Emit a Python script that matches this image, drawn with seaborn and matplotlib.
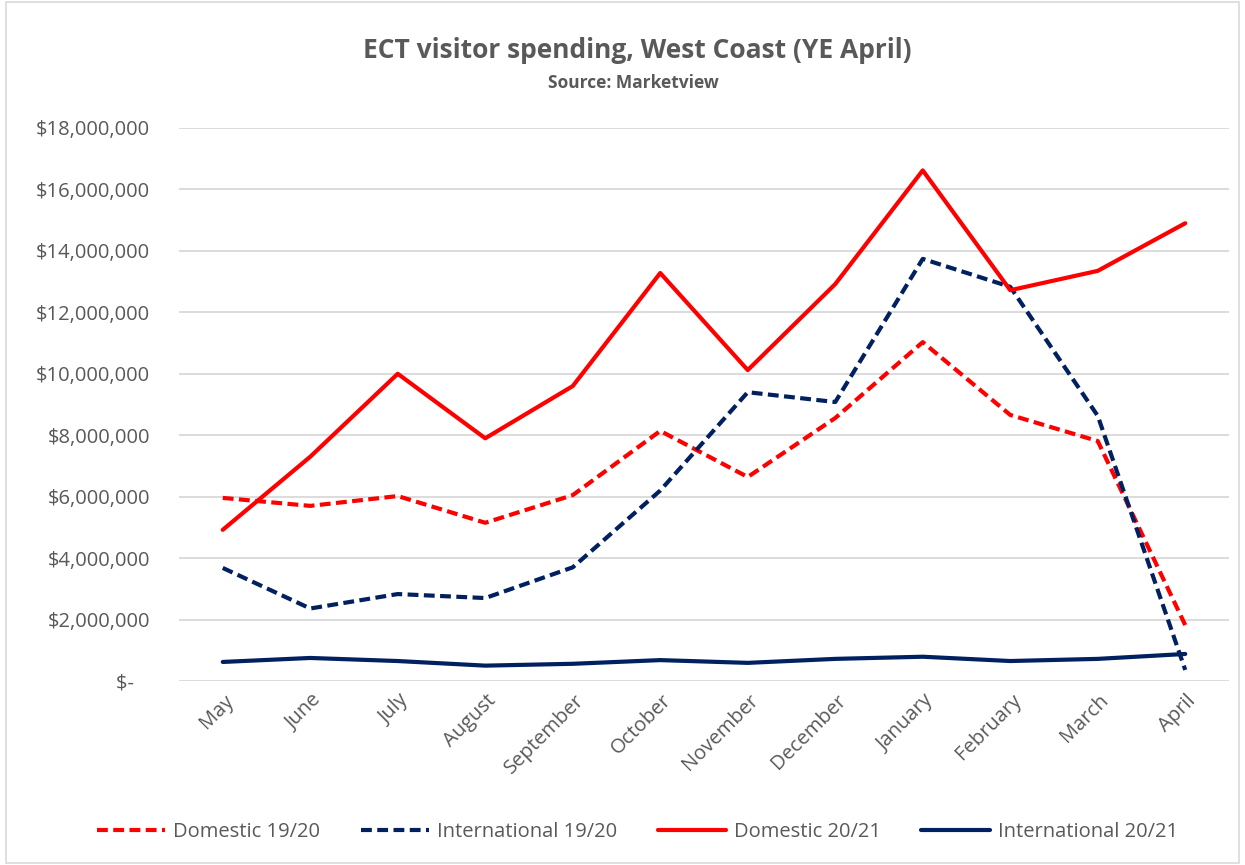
import pandas as pd
import numpy as np
import seaborn as sns
import matplotlib.pyplot as plt
from matplotlib.ticker import FuncFormatter
from matplotlib.transforms import ScaledTranslation

sns.set_style('white')
plt.rcParams['font.family'] = ['Open Sans', 'DejaVu Sans']

# Data
months = ['May', 'June', 'July', 'August', 'September', 'October', 'November',
          'December', 'January', 'February', 'March', 'April']
domestic_1920 = [5.96, 5.70, 6.02, 5.15, 6.05, 8.14, 6.64, 8.56, 11.03, 8.66, 7.81, 1.82]
international_1920 = [3.68, 2.36, 2.83, 2.70, 3.70, 6.20, 9.40, 9.08, 13.74, 12.83, 8.63, 0.36]
domestic_2021 = [4.92, 7.30, 10.00, 7.90, 9.60, 13.28, 10.12, 12.92, 16.62, 12.72, 13.35, 14.90]
international_2021 = [0.62, 0.75, 0.65, 0.50, 0.56, 0.68, 0.59, 0.72, 0.79, 0.65, 0.72, 0.88]

series = {
    'Domestic 19/20': domestic_1920,
    'International 19/20': international_1920,
    'Domestic 20/21': domestic_2021,
    'International 20/21': international_2021,
}
rows = []
for name, vals in series.items():
    for i, v in enumerate(vals):
        rows.append({'pos': i, 'month': months[i], 'series': name, 'value': v * 1e6})
df = pd.DataFrame(rows)

red = '#FF0000'
navy = '#002060'
palette = {'Domestic 19/20': red, 'International 19/20': navy,
           'Domestic 20/21': red, 'International 20/21': navy}
dashes = {'Domestic 19/20': (2.6, 1.3), 'International 19/20': (2.6, 1.3),
          'Domestic 20/21': '', 'International 20/21': ''}

fig = plt.figure(figsize=(12.45, 8.65), dpi=100)
ax = fig.add_axes([179 / 1245, 1 - 681 / 865, (1229 - 179) / 1245, (681 - 128) / 865])

sns.lineplot(data=df, x='pos', y='value', hue='series', style='series',
             palette=palette, dashes=dashes, linewidth=3, ax=ax, legend=True)

ax.set_xlim(-0.5, 11.5)
ax.set_ylim(0, 18e6)
ax.set_yticks(np.arange(0, 18e6 + 1, 2e6))
ax.yaxis.set_major_formatter(FuncFormatter(lambda v, p: '$-   ' if v == 0 else f'${v:,.0f}'))
ax.set_xticks(range(len(months)))
ax.set_xticklabels(months, rotation=45, ha='right', va='center', rotation_mode='anchor')
ax.tick_params(axis='both', colors='#595959', labelsize=14.5, length=0)
ax.tick_params(axis='y', pad=21)
ax.tick_params(axis='x', pad=12)
offset = ScaledTranslation(8 / 100, 0, fig.dpi_scale_trans)
for lab in ax.get_xticklabels():
    lab.set_transform(lab.get_transform() + offset)
ax.grid(axis='y', color='#D9D9D9', linewidth=1.3)
ax.set_axisbelow(True)
for s in ax.spines.values():
    s.set_visible(False)
ax.set_xlabel('')
ax.set_ylabel('')

fig.text(0.512, 0.942, 'ECT visitor spending, West Coast (YE April)', ha='center', va='center',
         fontsize=19, fontweight='bold', color='#595959')
fig.text(0.509, 0.904, 'Source: Marketview', ha='center', va='center',
         fontsize=12.5, fontweight='bold', color='#595959')

handles, labels = ax.get_legend_handles_labels()
ax.legend_.remove()
fig.legend(handles, labels, loc='center', bbox_to_anchor=(0.512, 0.038), ncol=4,
           frameon=False, fontsize=14.5, labelcolor='#595959', handlelength=3.4,
           columnspacing=2.0, handletextpad=0.4)

fig.patches.append(plt.Rectangle((6 / 1245, 0.002), 1 - 12 / 1245, 0.996, transform=fig.transFigure,
                                 fill=False, edgecolor='#D9D9D9', linewidth=1.2))

fig.savefig('out.png', dpi=100, facecolor='white')
